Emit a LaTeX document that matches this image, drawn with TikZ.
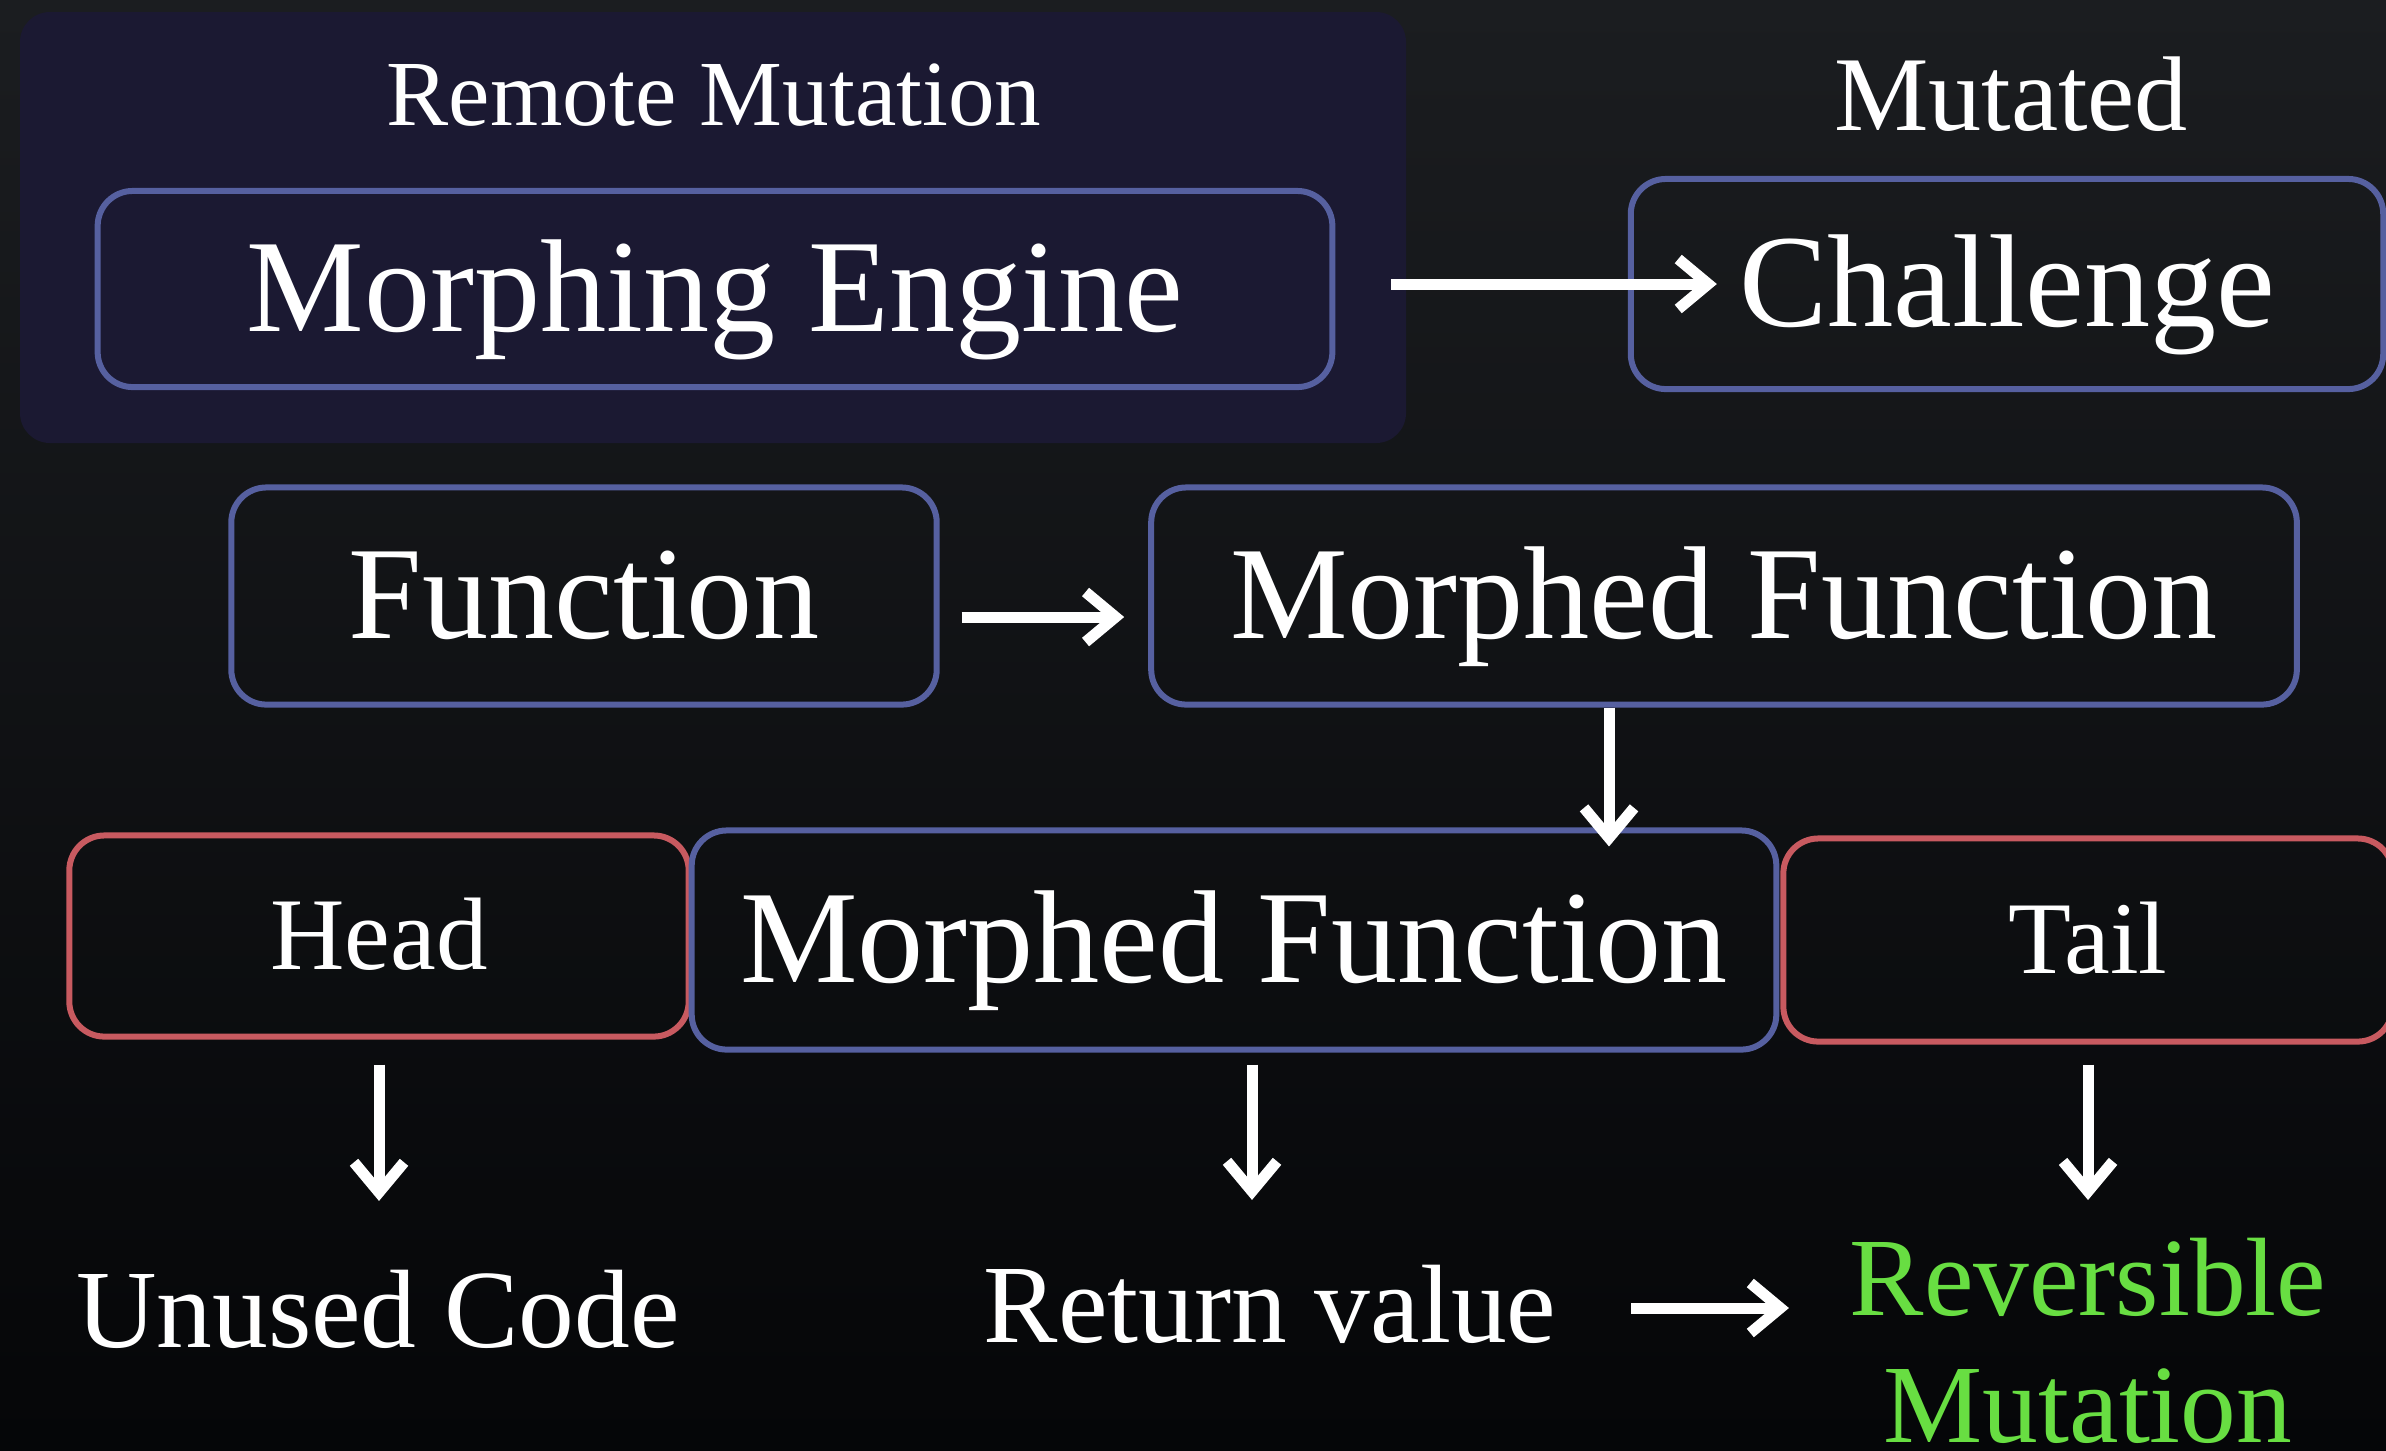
\documentclass[tikz,border=0pt]{standalone}
\usepackage{fontspec}
\setmainfont{Liberation Serif}
\usetikzlibrary{arrows.meta}
\definecolor{bgtop}{RGB}{27,29,32}
\definecolor{bgbot}{RGB}{5,6,8}
\definecolor{panel}{RGB}{27,25,50}
\definecolor{boxblue}{RGB}{86,96,160}
\definecolor{boxred}{RGB}{200,90,96}
\definecolor{revgreen}{RGB}{104,222,66}
\newcommand{\bigtxt}{\fontsize{37.6}{42}\selectfont}
\newcommand{\midtxt}{\fontsize{29.3}{34}\selectfont}
\newcommand{\lowtxt}{\fontsize{31.7}{36.1}\selectfont}

\begin{document}
\begin{tikzpicture}[x=0.01cm, y=-0.01cm, white,
	box/.style={draw=boxblue, line width=0.06cm, rounded corners=0.35cm, inner sep=0pt, text height=31.6pt, text depth=7.5pt, font=\bigtxt},
	redbox/.style={box, draw=boxred, text height=24.6pt, text depth=5.3pt, font=\midtxt},
	lbl/.style={inner sep=0pt, anchor=base},
	arr/.style={line width=0.11cm, -{Straight Barb[length=0.3cm, width=0.5cm]}}]
	%background and canvas
	\useasboundingbox (0,0) rectangle (2386,1450);
	\shade[top color=bgtop, bottom color=bgbot] (0,0) rectangle (2386,1450);
	
	%remote mutation panel
	\fill[panel, rounded corners=0.3cm] (20,12) rectangle (1406,443);
	\node[lbl, font=\fontsize{26.5}{30}\selectfont] (remote) at (714,125) {Remote Mutation};
	\node[box, minimum width=12.34cm, minimum height=1.96cm] (engine) at (715,289) {Morphing Engine};
	
	%mutated challenge
	\node[lbl, font=\fontsize{30.2}{34}\selectfont] (mutated) at (2011,130) {Mutated};
	\node[box, minimum width=7.52cm, minimum height=2.10cm] (challenge) at (2007,284) {Challenge};
	
	%function row
	\node[box, minimum width=7.05cm, minimum height=2.17cm] (function) at (584,596) {Function};
	\node[box, minimum width=11.45cm, minimum height=2.17cm] (morphtop) at (1724,596) {Morphed Function};
	
	%head / morphed / tail
	\node[redbox, minimum width=6.19cm, minimum height=2.01cm] (head) at (379,936) {Head};
	\node[box, minimum width=10.84cm, minimum height=2.19cm] (morphbot) at (1234,940) {Morphed Function};
	\node[redbox, minimum width=6.09cm, minimum height=2.03cm] (tail) at (2088,940) {Tail};
	
	%results (base of a two-line node is its last line)
	\node[lbl, font=\lowtxt] (unused) at (378,1347) {Unused Code};
	\node[lbl, font=\lowtxt] (ret) at (1270,1342) {Return value};
	\node[lbl, font=\lowtxt, text=revgreen, align=center] (rev) at (2088,1442) {Reversible\\Mutation};
	
	%arrows
	\draw[arr, shorten <=0.56cm, shorten >=-0.89cm] (engine.east |- challenge.west) -- (challenge.west);
	\draw[arr, shorten <=0.22cm, shorten >=0.24cm] ([yshift=-0.21cm]function.east) -- ([yshift=-0.21cm]morphtop.west);
	\draw[arr, shorten >=-0.19cm] (1609,0 |- morphtop.south) -- (1609,0 |- morphbot.north);
	\draw[arr, shorten <=0.25cm, shorten >=0.68cm] (head.south) -- (head.south |- unused.north);
	\draw[arr, shorten <=0.12cm, shorten >=0.64cm] (1252,0 |- morphbot.south) -- (1252,0 |- ret.north);
	\draw[arr, shorten <=0.2cm, shorten >=0.37cm] (tail.south) -- (tail.south |- rev.north);
	\coordinate (retmid) at ([yshift=0.34cm]ret.base east);
	\draw[arr, shorten <=0.74cm, shorten >=0.6cm] (retmid) -- (retmid -| rev.west);
\end{tikzpicture}
\end{document}
